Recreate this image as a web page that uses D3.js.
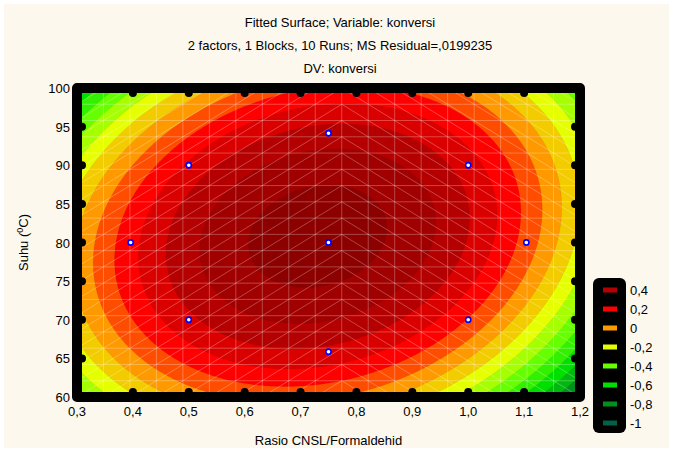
<!DOCTYPE html>
<html><head><meta charset="utf-8">
<script src="https://cdn.jsdelivr.net/npm/d3@7"></script>
<style>
body{margin:0;background:#fff}
svg{display:block}
text{font-family:"Liberation Sans",Arial,sans-serif;fill:#000}
</style>
</head><body>
<svg id="chart" width="673" height="452"></svg>
<script>
// ---- data ----
const titleLines = ["Fitted Surface; Variable: konversi",
  "2 factors, 1 Blocks, 10 Runs; MS Residual=,0199235",
  "DV: konversi"];
const xTitle = "Rasio CNSL/Formaldehid";
const xTicks = [0.3,0.4,0.5,0.6,0.7,0.8,0.9,1.0,1.1,1.2];
const yTicks = [60,65,70,75,80,85,90,95,100];
// design runs (central composite design, 10 runs)
const runRatio    = [0.5, 0.5, 1.0, 1.0, 0.396, 1.104, 0.75, 0.75, 0.75, 0.75];
const runTemp     = [70, 90, 70, 90, 80, 80, 65.86, 94.14, 80, 80];
const runKonversi = [0.37, 0.29, 0.19, 0.32, 0.28, 0.17, 0.37, 0.47, 0.65, 0.65];
// contour levels & legend
const levelValues = [-1.0,-0.9,-0.8,-0.7,-0.6,-0.5,-0.4,-0.3,-0.2,-0.1,0,0.1,0.2,0.3,0.4,0.5,0.6];
const legendLevels = [0.4,0.2,0,-0.2,-0.4,-0.6,-0.8,-1];
const legendLabels = ["0,4","0,2","0","-0,2","-0,4","-0,6","-0,8","-1"];
const legendColors = ["#B40000","#FF0000","#FF9900","#E6FF00","#66FF00","#00E000","#00901E","#006048"];
const extraLevels = [0.6];
const extraColors = ["#8C0000"];

// ---- layout ----
const svg = d3.select("#chart");
const W = 673, H = 452;
const P = {l:77, r:580, t:88, b:397};
svg.append("rect").attr("width",W).attr("height",H).attr("fill","#fff");
svg.append("rect").attr("x",4).attr("y",4).attr("width",W-8).attr("height",H-8).attr("fill","#FCF8EE");

const x = d3.scaleLinear().domain([0.3,1.2]).range([P.l,P.r]);
const y = d3.scaleLinear().domain([60,100]).range([P.b,P.t]);

// ---- fit full quadratic model by least squares (coded units) ----
const cu = v => (v-0.75)/0.25, cv = v => (v-80)/10;
const basis = (u,v) => [1,u,v,u*u,v*v,u*v];
const XtX = Array.from({length:6},()=>Array(6).fill(0)), Xty = Array(6).fill(0);
runRatio.forEach((r,i)=>{
  const b = basis(cu(r), cv(runTemp[i]));
  for(let a=0;a<6;a++){Xty[a]+=b[a]*runKonversi[i]; for(let c=0;c<6;c++) XtX[a][c]+=b[a]*b[c];}
});
function solve(A,bv){
  const n=bv.length, M=A.map((row,i)=>[...row,bv[i]]);
  for(let i=0;i<n;i++){
    let p=i; for(let k=i+1;k<n;k++) if(Math.abs(M[k][i])>Math.abs(M[p][i])) p=k;
    [M[i],M[p]]=[M[p],M[i]];
    for(let k=i+1;k<n;k++){const f=M[k][i]/M[i][i]; for(let j=i;j<=n;j++) M[k][j]-=f*M[i][j];}
  }
  const s=Array(n).fill(0);
  for(let i=n-1;i>=0;i--){let t=M[i][n]; for(let j=i+1;j<n;j++) t-=M[i][j]*s[j]; s[i]=t/M[i][i];}
  return s;
}
const coef = solve(XtX, Xty);
const model = (xr, yt) => { const b = basis(cu(xr), cv(yt)); return d3.sum(b, (d,i)=>d*coef[i]); };

// ---- colour per level ----
const anchorLv = legendLevels.concat(extraLevels).slice().sort((a,b)=>a-b);
const anchorCol = anchorLv.map(l => { const i = legendLevels.indexOf(l); return i>=0 ? legendColors[i] : extraColors[extraLevels.indexOf(l)]; });
const colorScale = d3.scaleLinear().domain(anchorLv).range(anchorCol).interpolate(d3.interpolateRgb).clamp(true);

// ---- contour grid ----
const nx = 240, ny = 160;
const xs = d3.scaleLinear().domain([0,nx]).range([0.3,1.2]);
const ys = d3.scaleLinear().domain([0,ny]).range([100,60]);
const vals = new Array(nx*ny);
for(let j=0;j<ny;j++) for(let i=0;i<nx;i++) vals[j*nx+i] = model(xs(i+0.5), ys(j+0.5));
const contours = d3.contours().size([nx,ny]).thresholds(levelValues)(vals);

const defs = svg.append("defs");
defs.append("clipPath").attr("id","plotclip").append("rect")
  .attr("x",P.l).attr("y",P.t).attr("width",P.r-P.l).attr("height",P.b-P.t);
const plot = svg.append("g").attr("clip-path","url(#plotclip)");
plot.append("rect").attr("x",P.l).attr("y",P.t).attr("width",P.r-P.l).attr("height",P.b-P.t)
  .attr("fill", colorScale(-1));
const proj = d3.geoTransform({point: function(px,py){ this.stream.point(x(xs(px)), y(ys(py))); }});
const path = d3.geoPath(proj);
plot.selectAll("path.band").data(contours).join("path").attr("class","band")
  .attr("d", path).attr("fill", d => colorScale(d.value))
  .attr("stroke", "rgba(0,0,0,0.10)").attr("stroke-width",0.6);

// ---- wireframe mesh ----
const nCells = 19;
const mesh = plot.append("g").attr("stroke","rgba(255,255,255,0.35)").attr("stroke-width",0.8).attr("fill","none");
const gx = d3.range(nCells+1).map(i => 0.3 + i*0.9/nCells);
const gy = d3.range(nCells+1).map(i => 60 + i*40/nCells);
gx.forEach(v => mesh.append("line").attr("x1",x(v)).attr("x2",x(v)).attr("y1",P.t).attr("y2",P.b));
gy.forEach(v => mesh.append("line").attr("y1",y(v)).attr("y2",y(v)).attr("x1",P.l).attr("x2",P.r));
for(let i=0;i<nCells;i++) for(let j=0;j<nCells;j++){
  const left = i < 10;
  const xa = x(gx[i]), xb = x(gx[i+1]), ya = y(gy[j]), yb = y(gy[j+1]);
  if(left) mesh.append("line").attr("x1",xa).attr("y1",ya).attr("x2",xb).attr("y2",yb);
  else mesh.append("line").attr("x1",xa).attr("y1",yb).attr("x2",xb).attr("y2",ya);
}

// ---- frame ----
svg.append("rect").attr("x",P.l).attr("y",P.t).attr("width",P.r-P.l).attr("height",P.b-P.t)
  .attr("fill","none").attr("stroke","#000").attr("stroke-width",10).attr("stroke-linejoin","round");
const bumps = svg.append("g").attr("fill","#000");
xTicks.slice(1,-1).forEach(t => {
  bumps.append("circle").attr("cx",x(t)).attr("cy",P.b-5).attr("r",4);
  bumps.append("circle").attr("cx",x(t)).attr("cy",P.t+5).attr("r",4);
});
yTicks.slice(1,-1).forEach(t => {
  bumps.append("circle").attr("cx",P.l+5).attr("cy",y(t)).attr("r",4);
  bumps.append("circle").attr("cx",P.r-5).attr("cy",y(t)).attr("r",4);
});

// ---- design points ----
svg.append("g").selectAll("circle").data(runRatio.map((r,i)=>[r,runTemp[i]])).join("circle")
  .attr("cx",d=>x(d[0])).attr("cy",d=>y(d[1])).attr("r",2.6)
  .attr("fill","#fff").attr("stroke","#0000FF").attr("stroke-width",1.6);

// ---- axes labels ----
const fmt = v => d3.format(".1f")(v).replace(".",",");
svg.append("g").selectAll("text").data(xTicks).join("text")
  .attr("x",d=>x(d)).attr("y",416).attr("text-anchor","middle").attr("font-size",13).text(fmt);
svg.append("g").selectAll("text").data(yTicks).join("text")
  .attr("x",70).attr("y",d=>y(d)+5).attr("text-anchor","end").attr("font-size",13).text(d=>d);
svg.append("text").attr("x",(P.l+P.r)/2).attr("y",445).attr("text-anchor","middle").attr("font-size",13).text(xTitle);
const yt = svg.append("text").attr("transform",`translate(28,${(P.t+P.b)/2}) rotate(-90)`)
  .attr("text-anchor","middle").attr("font-size",13);
yt.append("tspan").text("Suhu (");
yt.append("tspan").attr("dy",-5).attr("font-size",9).text("0");
yt.append("tspan").attr("dy",5).text("C)");

// ---- titles ----
svg.append("g").selectAll("text").data(titleLines).join("text")
  .attr("x",340).attr("y",(d,i)=>27+i*23).attr("text-anchor","middle").attr("font-size",13).text(d=>d);

// ---- legend ----
const lg = svg.append("g");
lg.append("rect").attr("x",593).attr("y",278).attr("width",33).attr("height",155).attr("rx",6)
  .attr("fill","#000");
legendLevels.forEach((lv,i)=>{
  const cy = 290 + i*19;
  lg.append("rect").attr("x",603).attr("y",cy-2.5).attr("width",14).attr("height",5).attr("fill",legendColors[i]);
  lg.append("text").attr("x",630).attr("y",cy+5).attr("font-size",13).text(legendLabels[i]);
});
</script>
</body></html>
